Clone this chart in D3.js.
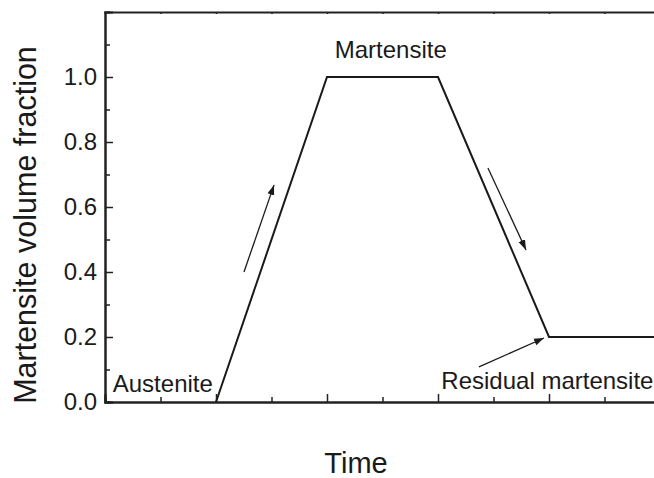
<!DOCTYPE html>
<html>
<head>
<meta charset="utf-8">
<script src="https://cdn.jsdelivr.net/npm/d3@7"></script>
<style>
  html, body { margin: 0; padding: 0; background: #fff; }
  svg { display: block; }
  text { font-family: "Liberation Sans", Arial, sans-serif; fill: #1a1a1a; }
</style>
</head>
<body>
<svg id="chart" width="654" height="478"></svg>
<script>
// Martensite fraction across one transformation cycle
const timePoints = [1, 2, 3, 4, 5];
const martensiteFraction = [0, 1.0, 1.0, 0.2, 0.2];

// Tick values
const yMajorTicks = [0, 0.2, 0.4, 0.6, 0.8, 1.0];
const yMinorTicks = [0.1, 0.3, 0.5, 0.7, 0.9, 1.1];
const xMajorTicks = [0, 1, 2, 3, 4, 5];
const xMinorTicks = [0.5, 1.5, 2.5, 3.5, 4.5];

// Phase labels (data coordinates)
const phaseLabels = ["Austenite", "Martensite", "Residual martensite"];
const phaseLabelX = [0.07, 2.07, 3.03];
const phaseLabelY = [0.03, 1.06, 0.04];

// Direction arrows: tail -> head, in data coordinates
const arrowTailX = [1.252, 3.45, 3.369];
const arrowTailY = [0.40, 0.72, 0.108];
const arrowHeadX = [1.523, 3.793, 3.955];
const arrowHeadY = [0.668, 0.468, 0.197];

const svg = d3.select("#chart");
const margin = { left: 105, top: 12, bottom: 76 };
const plotW = 555, plotH = 478 - margin.top - margin.bottom;

const x = d3.scaleLinear().domain([0, 5]).range([0, plotW]);
const y = d3.scaleLinear().domain([0, 1.2]).range([plotH, 0]);

const g = svg.append("g").attr("transform", `translate(${margin.left},${margin.top})`);

const axisColor = "#222";

// Left axis: inward ticks, labelled majors
const yAxis = g.append("g")
  .call(d3.axisLeft(y).tickValues(yMajorTicks).tickSize(-8).tickPadding(8)
    .tickFormat(d3.format(".1f")));
g.append("g")
  .call(d3.axisLeft(y).tickValues(yMinorTicks).tickSize(-5).tickFormat(""));

// Bottom axis: inward ticks, no labels
g.append("g").attr("transform", `translate(0,${plotH})`)
  .call(d3.axisBottom(x).tickValues(xMajorTicks).tickSize(-8).tickFormat(""));
g.append("g").attr("transform", `translate(0,${plotH})`)
  .call(d3.axisBottom(x).tickValues(xMinorTicks).tickSize(-5).tickFormat(""));

// Top frame line with small ticks
g.append("g")
  .call(d3.axisTop(x).tickValues(xMajorTicks.concat(xMinorTicks)).tickSize(-2).tickFormat(""));

g.selectAll(".domain").attr("stroke", axisColor).attr("stroke-width", 2);
g.selectAll(".tick line").attr("stroke", axisColor).attr("stroke-width", 1.5);
yAxis.selectAll("text")
  .style("font-size", "24px")
  .attr("fill", "#1a1a1a");

// Fraction curve
const line = d3.line()
  .x((d, i) => x(timePoints[i]))
  .y(d => y(d));
g.append("path")
  .datum(martensiteFraction)
  .attr("d", line)
  .attr("fill", "none")
  .attr("stroke", "#1a1a1a")
  .attr("stroke-width", 2)
  .attr("stroke-linejoin", "miter");

// Arrowhead marker
svg.append("defs").append("marker")
  .attr("id", "head")
  .attr("viewBox", "0 0 10 10")
  .attr("refX", 10).attr("refY", 5)
  .attr("markerWidth", 10).attr("markerHeight", 10)
  .attr("markerUnits", "userSpaceOnUse")
  .attr("orient", "auto")
  .append("path")
  .attr("d", "M0,1.5 L10,5 L0,8.5 Z")
  .attr("fill", "#1a1a1a");

g.selectAll(".arrow")
  .data(arrowTailX)
  .join("line")
  .attr("class", "arrow")
  .attr("x1", (d, i) => x(arrowTailX[i]))
  .attr("y1", (d, i) => y(arrowTailY[i]))
  .attr("x2", (d, i) => x(arrowHeadX[i]))
  .attr("y2", (d, i) => y(arrowHeadY[i]))
  .attr("stroke", "#1a1a1a")
  .attr("stroke-width", 1.3)
  .attr("marker-end", "url(#head)");

g.selectAll(".phase")
  .data(phaseLabels)
  .join("text")
  .attr("class", "phase")
  .attr("x", (d, i) => x(phaseLabelX[i]))
  .attr("y", (d, i) => y(phaseLabelY[i]))
  .style("font-size", "24px")
  .text(d => d);

// Axis titles
svg.append("text")
  .attr("transform", "translate(36,225) rotate(-90)")
  .attr("text-anchor", "middle")
  .style("font-size", "30.5px")
  .text("Martensite volume fraction");

svg.append("text")
  .attr("x", 356)
  .attr("y", 473)
  .attr("text-anchor", "middle")
  .style("font-size", "29px")
  .text("Time");
</script>
</body>
</html>
